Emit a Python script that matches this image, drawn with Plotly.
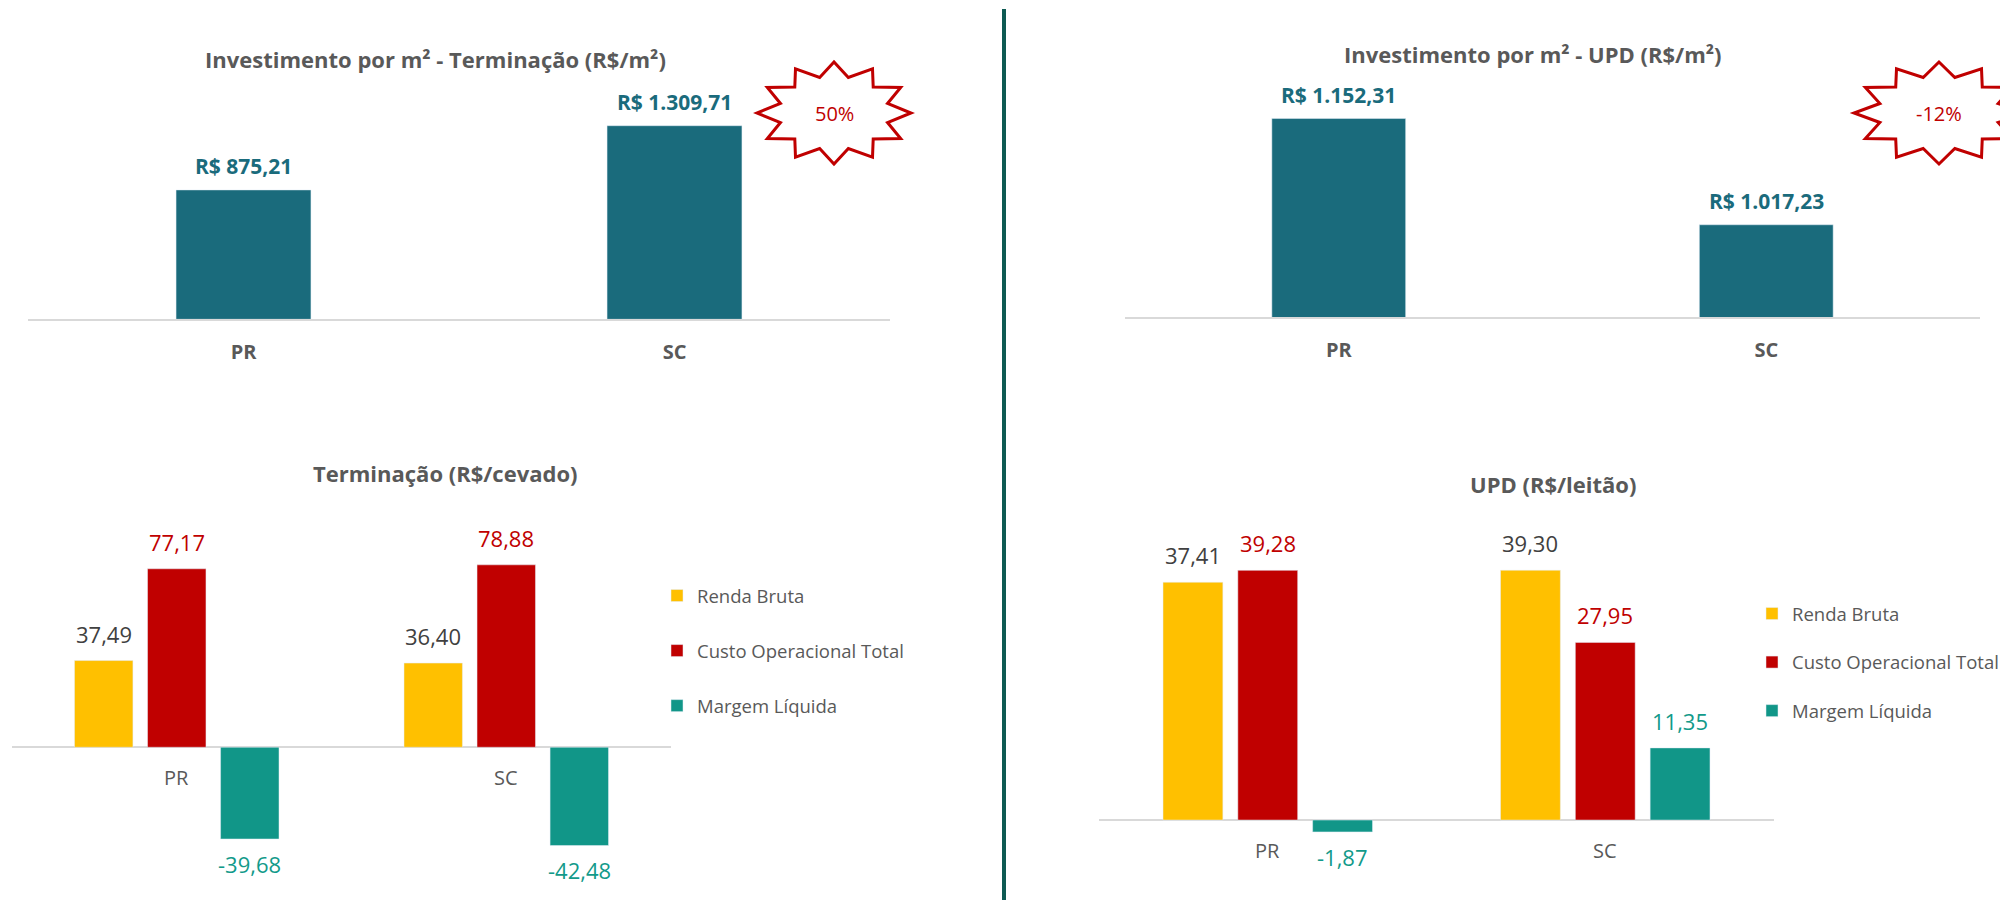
import numpy as np
import plotly.graph_objects as go

# dados
estados = ["PR", "SC"]
invest_terminacao = [875.21, 1309.71]
invest_upd = [1152.31, 1017.23]

series = ["Renda Bruta", "Custo Operacional Total", "Margem Líquida"]
term_renda = [37.49, 36.40]
term_custo = [77.17, 78.88]
term_margem = [-39.68, -42.48]
upd_renda = [37.41, 39.30]
upd_custo = [39.28, 27.95]
upd_margem = [-1.87, 11.35]

W, H = 2008, 900
OFFSET = 8  # page body margin around the plot div
FONT = "Open Sans"
GREY = "#595959"
TEAL = "#1A6B7C"
RED = "#C00000"
AXIS = "#D9D9D9"
bar_colors = ["#FFC000", "#C00000", "#119688"]
label_colors = ["#404040", "#C00000", "#129A8A"]
BARGAP = 0.335


def br(v, dec=2):
    """format number pt-BR style"""
    s = f"{v:,.{dec}f}"
    return s.replace(",", "X").replace(".", ",").replace("X", ".")


def px_x(p):
    return (p - OFFSET) / W


def px_y(p):
    return 1 - (p - OFFSET) / H


def star_path(cx, cy, rx, ry, points=12, inner=0.72):
    """12-point burst outline in paper coords"""
    k = np.arange(2 * points)
    ang = np.pi / 2 + k * np.pi / points
    r = np.where(k % 2 == 0, 1.0, inner)
    xs = px_x(cx + rx * r * np.cos(ang))
    ys = px_y(cy - ry * r * np.sin(ang))
    return "M " + " L ".join(f"{x:.5f},{y:.5f}" for x, y in zip(xs, ys)) + " Z"


fig = go.Figure()
annotations = []
shapes = []

# --- top panels: investment per m2 ---
top_panels = [
    {"ax": "", "values": invest_terminacao, "title": "Investimento por m² - Terminação (R$/m²)",
     "title_xy": (435, 59), "star": (834, 113, 77, 51)},
    {"ax": "2", "values": invest_upd, "title": "Investimento por m² - UPD (R$/m²)",
     "title_xy": (1533, 54), "star": (1939, 113, 85, 51)},
]
for panel in top_panels:
    ax = panel["ax"]
    fig.add_trace(go.Bar(
        x=estados, y=panel["values"], width=0.313,
        marker={"color": TEAL}, showlegend=False,
        xaxis="x" + ax, yaxis="y" + ax,
    ))
    for cat, val in zip(estados, panel["values"]):
        annotations.append(dict(
            x=cat, y=val, xref="x" + ax, yref="y" + ax, yshift=24, showarrow=False,
            xanchor="center", yanchor="middle",
            text=f"<b>R$ {br(val)}</b>", font={"family": FONT, "size": 21, "color": TEAL},
        ))
    tx, ty = panel["title_xy"]
    annotations.append(dict(
        x=px_x(tx), y=px_y(ty), xref="paper", yref="paper", showarrow=False,
        xanchor="center", yanchor="middle",
        text=f"<b>{panel['title']}</b>", font={"family": FONT, "size": 22, "color": GREY},
    ))
    cx, cy, rx, ry = panel["star"]
    shapes.append(dict(
        type="path", xref="paper", yref="paper", path=star_path(cx, cy, rx, ry),
        line={"color": RED, "width": 3}, fillcolor="white", layer="above",
    ))
    change = panel["values"][1] / panel["values"][0] - 1
    annotations.append(dict(
        x=px_x(cx), y=px_y(cy + 1), xref="paper", yref="paper", showarrow=False,
        xanchor="center", yanchor="middle",
        text=f"{change * 100:.0f}%", font={"family": FONT, "size": 20, "color": RED},
    ))

# --- bottom panels: grouped bars ---
bottom_panels = [
    {"ax": "3", "data": [term_renda, term_custo, term_margem], "title": "Terminação (R$/cevado)",
     "title_xy": (445, 473), "legend": "legend", "width_px": 659},
    {"ax": "4", "data": [upd_renda, upd_custo, upd_margem], "title": "UPD (R$/leitão)",
     "title_xy": (1553, 484), "legend": "legend2", "width_px": 675},
]
for panel in bottom_panels:
    ax = panel["ax"]
    slot = panel["width_px"] / len(estados) * (1 - BARGAP) / len(series)
    for j, (name, vals) in enumerate(zip(series, panel["data"])):
        fig.add_trace(go.Bar(
            x=estados, y=vals, name=name, marker={"color": bar_colors[j]},
            legend=panel["legend"], legendgroup=f"{panel['legend']}{j}",
            xaxis="x" + ax, yaxis="y" + ax,
        ))
        for cat, val in zip(estados, vals):
            annotations.append(dict(
                x=cat, y=val, xref="x" + ax, yref="y" + ax, showarrow=False,
                xanchor="center", yanchor="middle",
                xshift=(j - 1) * slot, yshift=27 if val >= 0 else -25,
                text=br(val), font={"family": FONT, "size": 22, "color": label_colors[j]},
            ))
    for cat in estados:
        annotations.append(dict(
            x=cat, y=0, xref="x" + ax, yref="y" + ax, showarrow=False, yshift=-30,
            xanchor="center", yanchor="middle",
            text=cat, font={"family": FONT, "size": 20, "color": GREY},
        ))
    tx, ty = panel["title_xy"]
    annotations.append(dict(
        x=px_x(tx), y=px_y(ty), xref="paper", yref="paper", showarrow=False,
        xanchor="center", yanchor="middle",
        text=f"<b>{panel['title']}</b>", font={"family": FONT, "size": 22, "color": GREY},
    ))

# divider
shapes.append(dict(
    type="line", xref="paper", yref="paper", x0=px_x(1004), x1=px_x(1004),
    y0=px_y(9), y1=0, line={"color": "#0E5A53", "width": 4},
))

top_x = {"showline": True, "linecolor": AXIS, "linewidth": 2, "ticks": "", "showgrid": False,
         "tickfont": {"family": FONT, "size": 20, "color": GREY, "weight": "bold"},
         "ticklabelstandoff": 14, "fixedrange": True}
bottom_x = {"showline": False, "showticklabels": False, "showgrid": False, "ticks": ""}
bottom_y = {"showticklabels": False, "showgrid": False, "showline": False, "ticks": "",
            "zeroline": True, "zerolinecolor": AXIS, "zerolinewidth": 2}
legend_style = {"font": {"family": FONT, "size": 18.5, "color": GREY}, "xanchor": "left",
                "yanchor": "top", "traceorder": "grouped", "bgcolor": "rgba(0,0,0,0)"}

fig.update_layout(
    width=W, height=H, autosize=False,
    margin={"l": 0, "r": 0, "t": 0, "b": 0},
    paper_bgcolor="white", plot_bgcolor="white",
    font={"family": FONT, "color": GREY},
    barmode="group", bargap=BARGAP, bargroupgap=0.2,
    xaxis={**top_x, "domain": [px_x(28), px_x(890)], "anchor": "y"},
    yaxis={"domain": [px_y(319.3), px_y(82.8)], "range": [0, 1600], "visible": False, "anchor": "x"},
    xaxis2={**top_x, "domain": [px_x(1125), px_x(1980)], "anchor": "y2"},
    yaxis2={"domain": [px_y(317), px_y(81)], "range": [900, 1200], "visible": False, "anchor": "x2"},
    xaxis3={**bottom_x, "domain": [px_x(12), px_x(671)], "anchor": "y3"},
    yaxis3={**bottom_y, "domain": [px_y(886), px_y(516)], "range": [-60, 100], "anchor": "x3"},
    xaxis4={**bottom_x, "domain": [px_x(1099), px_x(1774)], "anchor": "y4"},
    yaxis4={**bottom_y, "domain": [px_y(883.6), px_y(534)], "range": [-10, 45], "anchor": "x4"},
    legend={**legend_style, "x": px_x(657), "y": px_y(577), "tracegroupgap": 28},
    legend2={**legend_style, "x": px_x(1752), "y": px_y(595), "tracegroupgap": 21.5},
    annotations=annotations,
    shapes=shapes,
)

fig.write_html("out.html")
